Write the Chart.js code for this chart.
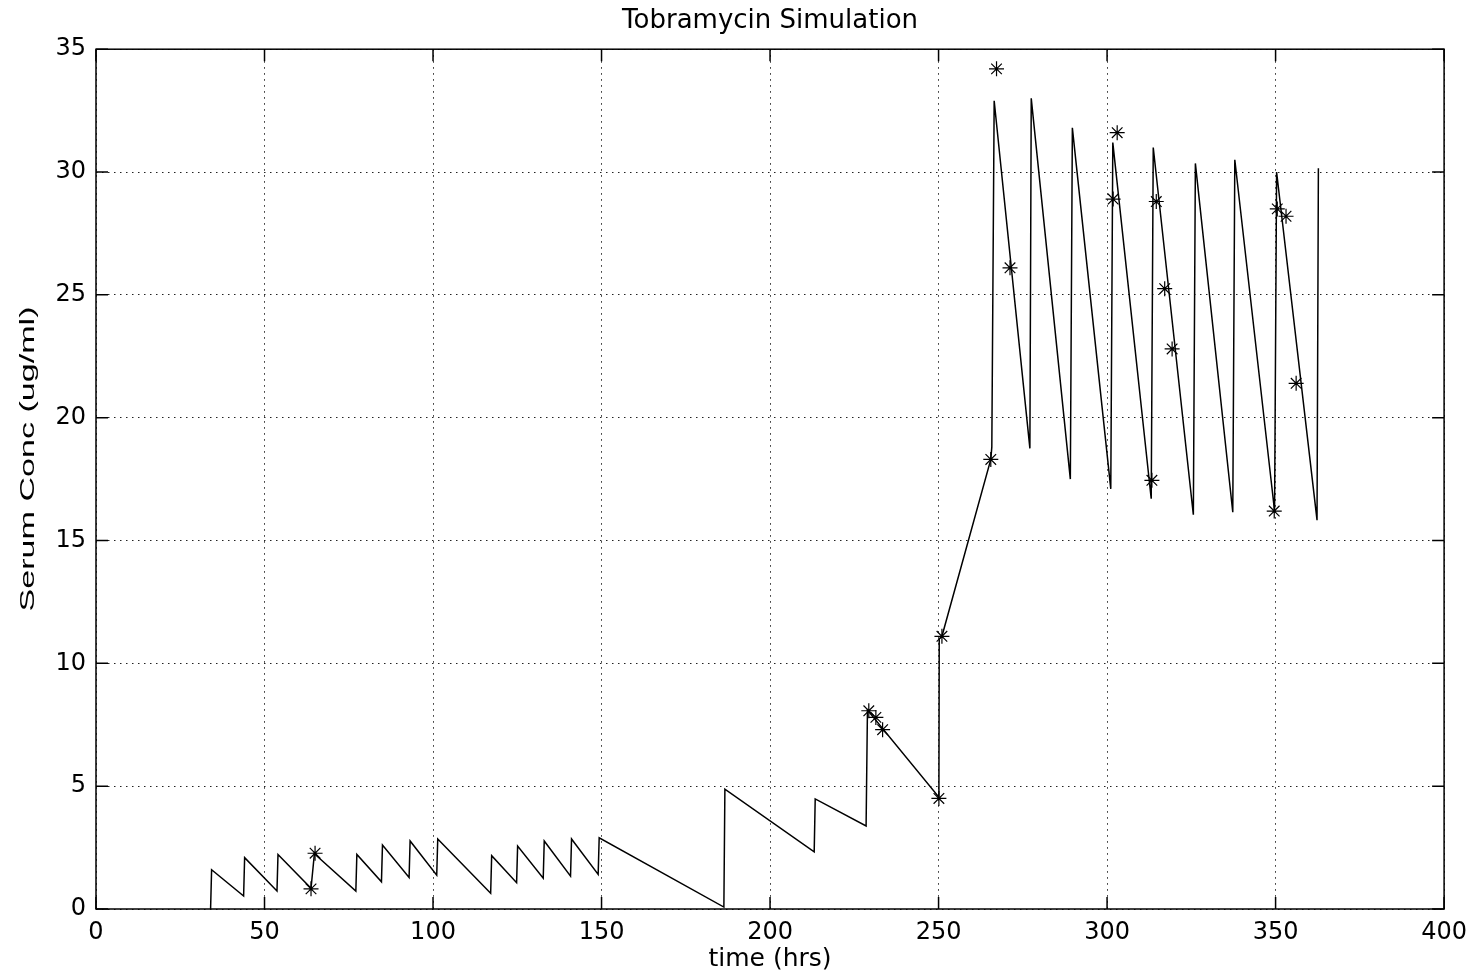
<!DOCTYPE html>
<html>
<head>
<meta charset="utf-8">
<title>Tobramycin Simulation</title>
<script src="https://cdn.jsdelivr.net/npm/chart.js@4.4.1/dist/chart.umd.min.js"></script>
<style>
  html, body { margin: 0; padding: 0; background: #fff; }
  #wrap { position: relative; width: 1476px; height: 974px; }
</style>
</head>
<body>
<div id="wrap"><canvas id="chart"></canvas></div>
<script>
// Simulated serum level: each dose shows as a near-vertical jump, then decay.
var simTime = [34.0, 34.3, 43.8, 44.1, 53.7, 54.0, 63.8, 64.8, 77.1, 77.4,
               84.7, 85.0, 92.9, 93.2, 101.1, 101.4, 117.1, 117.4, 124.8, 125.1,
               132.7, 133.0, 140.8, 141.1, 149.0, 149.3, 186.3, 186.6, 213.1, 213.4,
               228.5, 228.9, 250.1, 250.2, 251.0, 265.5, 265.8, 266.5, 277.1, 277.5,
               289.1, 289.7, 301.1, 301.7, 313.1, 313.7, 325.6, 326.2, 337.3, 337.9,
               349.7, 350.3, 362.3, 362.7];
var simConc = [0, 1.6, 0.53, 2.09, 0.73, 2.22, 0.84, 2.25, 0.73, 2.22,
               1.11, 2.6, 1.28, 2.77, 1.38, 2.85, 0.64, 2.17, 1.07, 2.56,
               1.25, 2.77, 1.34, 2.85, 1.41, 2.9, 0.08, 4.88, 2.33, 4.48,
               3.38, 8.1, 4.55, 11.0, 11.1, 18.3, 18.8, 32.9, 18.75, 33.0,
               17.5, 31.8, 17.1, 31.2, 16.7, 31.0, 16.05, 30.35, 16.15, 30.5,
               16.2, 30.0, 15.83, 30.15];

// Measured levels (drawn as asterisks)
var obsTime = [63.8, 65.0, 229.3, 231.4, 233.4, 250.1, 251.0, 265.5, 267.2, 271.2,
               301.8, 303.0, 313.3, 314.6, 317.1, 319.3, 349.6, 350.5, 353.1, 356.1];
var obsConc = [0.82, 2.27, 8.07, 7.8, 7.3, 4.5, 11.1, 18.3, 34.2, 26.1,
               28.9, 31.6, 17.45, 28.8, 25.25, 22.8, 16.2, 28.5, 28.2, 21.4];

var xTicks = [0, 50, 100, 150, 200, 250, 300, 350, 400];
var yTicks = [0, 5, 10, 15, 20, 25, 30, 35];

var TITLE  = "Tobramycin Simulation";
var XLABEL = "time (hrs)";
var YLABEL = "Serum Conc (ug/ml)";

var TICK_LEN = 12;

function _pairs(xs, ys) {
  return xs.map(function(x, i) { return { x: x, y: ys[i] }; });
}

// axes box with inward tick marks on all four sides
var boxPlugin = {
  id: "axesBox",
  afterDatasetsDraw: function(chart) {
    var a = chart.chartArea, ctx = chart.ctx;
    var xs = chart.scales.x, ys = chart.scales.y;
    ctx.save();
    ctx.strokeStyle = "#000";
    ctx.lineWidth = 1.5;
    ctx.beginPath();
    xTicks.forEach(function(v) {
      var px = xs.getPixelForValue(v);
      ctx.moveTo(px, a.bottom); ctx.lineTo(px, a.bottom - TICK_LEN);
      ctx.moveTo(px, a.top);    ctx.lineTo(px, a.top + TICK_LEN);
    });
    yTicks.forEach(function(v) {
      var py = ys.getPixelForValue(v);
      ctx.moveTo(a.left, py);  ctx.lineTo(a.left + TICK_LEN, py);
      ctx.moveTo(a.right, py); ctx.lineTo(a.right - TICK_LEN, py);
    });
    ctx.stroke();
    ctx.strokeRect(a.left, a.top, a.right - a.left, a.bottom - a.top);
    ctx.restore();
  }
};

// rotated y label, stretched along its length
var yLabelPlugin = {
  id: "yLabel",
  afterDraw: function(chart) {
    var ctx = chart.ctx;
    ctx.save();
    ctx.font = "21px 'Liberation Sans', Arial, sans-serif";
    ctx.fillStyle = "#000";
    ctx.textAlign = "center";
    ctx.textBaseline = "middle";
    var w = ctx.measureText(YLABEL).width;
    ctx.translate(28, 459);
    ctx.rotate(-Math.PI / 2);
    ctx.scale(305 / w, 1);
    ctx.fillText(YLABEL, 0, 0);
    ctx.restore();
  }
};

var tickFont = { family: "'DejaVu Sans', sans-serif", size: 24 };

new Chart(document.getElementById("chart"), {
  type: "scatter",
  data: {
    datasets: [
      {
        label: "measured",
        data: _pairs(obsTime, obsConc),
        showLine: false,
        pointStyle: "star",
        pointRadius: 7.5,
        pointBorderColor: "#000",
        pointBorderWidth: 1.2,
        pointBackgroundColor: "#000",
      },
      {
        label: "simulated",
        data: _pairs(simTime, simConc),
        showLine: true,
        borderColor: "#000",
        borderWidth: 1.5,
        pointRadius: 0,
        tension: 0,
      },
    ],
  },
  options: {
    responsive: true,
    maintainAspectRatio: false,
    animation: false,
    layout: { padding: { left: 0, right: 29, top: 0, bottom: 0 } },
    plugins: {
      legend: { display: false },
      tooltip: { enabled: false },
      title: {
        display: true,
        text: TITLE,
        fullSize: false,
        color: "#000",
        font: { family: "'DejaVu Sans', sans-serif", size: 26, weight: "normal" },
        padding: { top: 6, bottom: 12 },
      },
    },
    scales: {
      x: {
        type: "linear",
        min: 0,
        max: 400,
        afterBuildTicks: function(scale) {
          scale.ticks = xTicks.map(function(v) { return { value: v }; });
        },
        afterFit: function(scale) { scale.height = 65; },
        ticks: { color: "#000", font: tickFont, padding: 9, maxRotation: 0 },
        grid: { color: "#222", lineWidth: 1, drawTicks: false },
        border: { display: false, dash: [1.5, 4.5] },
        title: {
          display: true,
          text: XLABEL,
          color: "#000",
          font: { family: "'DejaVu Sans', sans-serif", size: 25 },
          padding: { top: 0, bottom: 0 },
        },
      },
      y: {
        type: "linear",
        min: 0,
        max: 35,
        afterBuildTicks: function(scale) {
          scale.ticks = yTicks.map(function(v) { return { value: v }; });
        },
        afterFit: function(scale) { scale.width = 96; },
        ticks: { color: "#000", font: tickFont, padding: 10 },
        grid: { color: "#222", lineWidth: 1, drawTicks: false },
        border: { display: false, dash: [1.5, 4.5] },
      },
    },
  },
  plugins: [boxPlugin, yLabelPlugin],
});
</script>
</body>
</html>
